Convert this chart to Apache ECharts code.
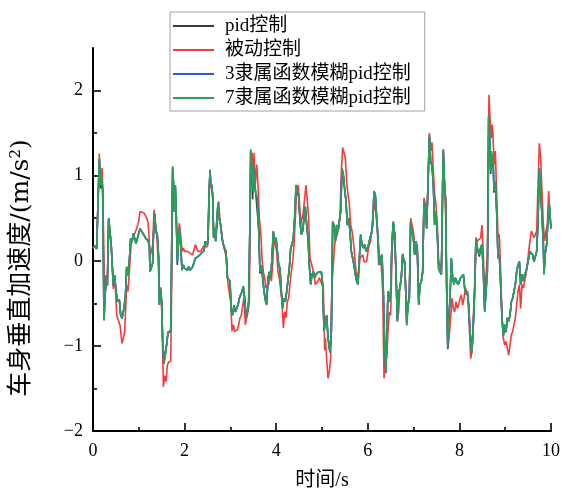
<!DOCTYPE html>
<html><head><meta charset="utf-8">
<script src="https://cdn.jsdelivr.net/npm/echarts@6/dist/echarts.min.js"></script>
<style>html,body{margin:0;padding:0;background:#fff}#c{width:562px;height:493px}</style>
</head><body><div id="c"></div>
<script>
const seriesNames = ['pid控制', '被动控制', '3隶属函数模糊pid控制', '7隶属函数模糊pid控制'];
const xTitle = '时间/s';
const yTitle = '车身垂直加速度/(m/s{sup|2})';
const xTicks = [0, 2, 4, 6, 8, 10];
const yMajorTicks = [-2, -1, 0, 1, 2];
const yMinorTicks = [-1.5, -0.5, 0.5, 1.5];

// common time grid (s) for the three controlled responses
const time = [
0,0.044,0.08,0.109,0.138,0.167,0.189,0.211,0.24,0.269,
0.298,0.313,0.342,0.371,0.4,0.415,0.444,0.473,0.502,0.531,
0.575,0.604,0.633,0.662,0.706,0.735,0.764,0.793,0.822,0.852,
0.881,0.91,0.939,0.968,0.997,1.026,1.07,1.114,1.157,1.201,
1.23,1.245,1.274,1.303,1.317,1.346,1.376,1.405,1.434,1.448,
1.477,1.499,1.521,1.55,1.579,1.608,1.638,1.667,1.696,1.71,
1.725,1.739,1.761,1.783,1.798,1.82,1.841,1.863,1.885,1.914,
1.943,1.972,2.001,2.031,2.06,2.089,2.118,2.147,2.176,2.205,
2.234,2.263,2.293,2.322,2.351,2.394,2.424,2.453,2.482,2.511,
2.533,2.555,2.569,2.591,2.613,2.635,2.656,2.678,2.7,2.729,
2.758,2.788,2.817,2.846,2.875,2.904,2.933,2.962,2.991,3.02,
3.05,3.079,3.108,3.137,3.166,3.195,3.224,3.253,3.282,3.312,
3.341,3.37,3.399,3.428,3.443,3.472,3.486,3.501,3.53,3.559,
3.588,3.617,3.646,3.675,3.705,3.734,3.763,3.792,3.821,3.85,
3.879,3.908,3.937,3.967,3.996,4.025,4.054,4.083,4.112,4.141,
4.17,4.199,4.229,4.258,4.287,4.316,4.345,4.374,4.403,4.432,
4.461,4.491,4.52,4.549,4.578,4.607,4.636,4.665,4.694,4.723,
4.753,4.782,4.811,4.84,4.869,4.898,4.927,4.956,4.985,5.015,
5.044,5.073,5.102,5.131,5.16,5.175,5.204,5.233,5.262,5.291,
5.32,5.349,5.378,5.408,5.437,5.466,5.495,5.524,5.553,5.582,
5.611,5.64,5.67,5.699,5.728,5.757,5.786,5.815,5.844,5.873,
5.903,5.932,5.961,5.99,6.019,6.048,6.077,6.106,6.135,6.164,
6.194,6.223,6.252,6.281,6.31,6.339,6.368,6.397,6.412,6.441,
6.47,6.499,6.528,6.557,6.587,6.616,6.645,6.674,6.703,6.732,
6.761,6.776,6.805,6.834,6.849,6.878,6.907,6.936,6.965,6.994,
7.023,7.052,7.082,7.111,7.14,7.169,7.198,7.227,7.256,7.285,
7.314,7.344,7.373,7.402,7.431,7.46,7.489,7.518,7.547,7.576,
7.606,7.62,7.635,7.649,7.678,7.7,7.722,7.744,7.766,7.795,
7.824,7.853,7.882,7.911,7.94,7.969,7.999,8.028,8.057,8.086,
8.115,8.144,8.173,8.202,8.231,8.261,8.275,8.304,8.333,8.362,
8.392,8.406,8.435,8.464,8.493,8.523,8.552,8.581,8.61,8.624,
8.639,8.661,8.683,8.697,8.712,8.734,8.755,8.785,8.814,8.843,
8.872,8.901,8.93,8.959,8.988,9.017,9.047,9.076,9.105,9.134,
9.163,9.192,9.221,9.25,9.279,9.309,9.338,9.367,9.396,9.425,
9.454,9.483,9.512,9.541,9.571,9.6,9.629,9.658,9.687,9.716,
9.745,9.774,9.803,9.833,9.847,9.876,9.905,9.934,9.963,10
];

const pidV = [
0.15,0.18,0.14,0.15,1.18,0.85,0.95,0.80,-0.68,-0.36,
-0.21,-0.29,0.49,0.34,0.16,0.18,-0.29,-0.17,-0.35,-0.46,
-0.46,-0.63,-0.67,-0.60,-0.44,-0.08,-0.17,-0.01,0.26,0.22,
0.32,0.34,0.21,0.26,0.28,0.37,0.34,0.30,0.26,0.24,
0.18,-0.13,-0.15,-0.03,0.26,0.55,0.34,0.30,0.03,-0.50,
-0.33,-0.48,-0.93,-1.17,-1.08,-0.97,-0.84,-0.86,-0.84,-0.30,
0.48,1.09,0.87,0.58,0.87,0.50,-0.05,0.19,0.37,0.19,
-0.11,-0.05,-0.09,-0.07,-0.11,-0.07,-0.11,-0.09,-0.07,-0.05,
0.03,0.05,0.05,0.06,0.08,0.09,0.12,0.23,0.19,0.23,
0.76,1.05,0.92,0.88,0.77,0.27,0.38,0.23,0.44,0.67,
0.50,0.42,0.27,0.19,0.15,0.10,-0.20,-0.18,-0.24,-0.58,
-0.62,-0.52,-0.60,-0.56,-0.52,-0.44,-0.40,-0.36,-0.30,-0.44,
-0.65,-0.60,-0.48,0.48,1.28,1.02,0.72,1.10,0.88,0.76,
0.74,0.38,-0.15,-0.06,-0.20,-0.36,-0.47,-0.50,-0.20,-0.13,
-0.20,0.03,0.34,0.23,0.27,0.11,-0.05,-0.09,-0.36,-0.54,
-0.44,-0.48,-0.36,-0.34,-0.09,0.15,0.19,0.27,0.50,0.87,
0.80,0.76,0.46,0.31,0.35,0.50,0.63,0.42,0.27,-0.05,
-0.27,-0.16,-0.13,-0.20,-0.16,-0.16,-0.13,-0.15,-0.13,-0.28,
-0.81,-0.70,-0.64,-0.90,-1.01,-1.05,-0.83,0.45,0.42,0.23,
0.42,0.35,0.46,0.58,1.07,1.00,0.84,0.70,0.42,0.50,
0.35,0.11,0.03,-0.05,-0.16,-0.24,-0.27,0.03,0.30,0.19,
0.15,0.19,0.11,0.15,0.19,0.27,0.31,0.42,0.80,0.77,
0.50,0.27,-0.05,0.03,0.07,-0.36,-0.97,-1.27,-0.94,-0.36,
-0.48,-0.36,0.23,0.45,0.31,-0.13,-0.70,-0.36,-0.32,-0.20,
0.08,0.03,-0.01,-0.44,-0.73,-0.52,-0.44,0.45,0.35,0.27,
0.07,0.23,0.16,-0.50,-0.28,-0.24,-0.13,0.69,0.62,0.38,
0.88,1.45,1.15,1.12,0.88,0.42,0.57,0.31,-0.09,-0.13,
-0.16,0.27,0.92,1.29,0.84,0.72,-0.30,-0.97,-0.70,-0.44,
0.03,-0.20,-0.28,-0.20,-0.24,-0.28,-0.24,-0.20,-0.20,-0.16,
-0.32,-0.40,-0.36,-0.52,-0.82,-1.02,-1.05,-0.75,-0.36,0.26,
0.15,0.11,0.05,0.15,0.19,-0.13,-0.58,-0.36,-0.13,0.49,
1.68,1.45,1.02,1.27,1.11,1.23,0.80,0.91,0.58,0.03,
0.07,-0.28,-0.67,-0.89,-0.76,-0.84,-0.67,-0.71,-0.64,-0.48,
-0.44,-0.44,-0.28,-0.13,-0.05,-0.01,-0.28,-0.16,-0.24,-0.16,
-0.13,-0.13,0.03,0.11,0.11,0.07,-0.01,-0.01,0.11,0.45,
1.07,0.80,0.53,0.19,-0.14,0.08,0.19,0.49,0.64,0.38
];

const fuzzy3V = [
0.15,0.18,0.14,0.15,1.19,0.88,0.96,0.84,-0.70,-0.36,
-0.21,-0.29,0.50,0.34,0.16,0.18,-0.29,-0.17,-0.35,-0.48,
-0.46,-0.64,-0.68,-0.60,-0.44,-0.07,-0.17,-0.01,0.26,0.22,
0.32,0.34,0.20,0.26,0.28,0.38,0.34,0.30,0.26,0.24,
0.18,-0.13,-0.15,-0.03,0.26,0.56,0.34,0.30,0.03,-0.52,
-0.33,-0.48,-0.95,-1.21,-1.11,-0.99,-0.84,-0.83,-0.82,-0.28,
0.50,1.10,0.89,0.58,0.89,0.50,-0.01,0.19,0.38,0.19,
-0.11,-0.05,-0.09,-0.07,-0.11,-0.07,-0.11,-0.09,-0.07,-0.05,
0.03,0.05,0.05,0.06,0.08,0.09,0.12,0.23,0.19,0.23,
0.78,1.07,0.93,0.89,0.78,0.27,0.38,0.23,0.44,0.68,
0.50,0.42,0.27,0.19,0.15,0.11,-0.20,-0.18,-0.24,-0.60,
-0.64,-0.52,-0.60,-0.56,-0.52,-0.44,-0.40,-0.36,-0.30,-0.44,
-0.67,-0.60,-0.48,0.50,1.30,1.05,0.82,1.13,0.89,0.78,
0.74,0.38,-0.13,-0.05,-0.20,-0.36,-0.44,-0.52,-0.20,-0.13,
-0.20,0.03,0.35,0.23,0.27,0.11,-0.05,-0.09,-0.36,-0.56,
-0.44,-0.48,-0.36,-0.34,-0.09,0.15,0.19,0.27,0.50,0.89,
0.82,0.78,0.46,0.31,0.35,0.50,0.64,0.42,0.27,-0.05,
-0.28,-0.16,-0.13,-0.20,-0.16,-0.16,-0.13,-0.15,-0.13,-0.28,
-0.83,-0.75,-0.64,-0.91,-1.04,-1.08,-0.83,0.46,0.42,0.23,
0.42,0.35,0.46,0.58,1.09,1.01,0.85,0.70,0.42,0.50,
0.35,0.11,0.03,-0.05,-0.16,-0.24,-0.28,0.03,0.31,0.19,
0.15,0.19,0.11,0.15,0.19,0.27,0.31,0.42,0.82,0.78,
0.50,0.27,-0.05,0.03,0.07,-0.36,-1.00,-1.32,-0.95,-0.36,
-0.48,-0.36,0.23,0.46,0.31,-0.13,-0.71,-0.36,-0.32,-0.20,
0.08,0.03,-0.01,-0.44,-0.76,-0.52,-0.44,0.46,0.35,0.27,
0.07,0.23,0.11,-0.52,-0.28,-0.24,-0.13,0.70,0.62,0.38,
0.89,1.48,1.17,1.13,0.89,0.42,0.58,0.31,-0.09,-0.13,
-0.16,0.27,0.93,1.31,0.85,0.74,-0.32,-1.04,-0.72,-0.44,
0.03,-0.20,-0.28,-0.20,-0.24,-0.28,-0.24,-0.20,-0.20,-0.16,
-0.32,-0.40,-0.36,-0.52,-0.83,-1.03,-1.08,-0.75,-0.36,0.27,
0.15,0.11,0.07,0.15,0.19,-0.13,-0.60,-0.36,-0.13,0.50,
1.71,1.48,1.05,1.29,1.13,1.25,0.82,0.93,0.58,0.03,
0.07,-0.28,-0.67,-0.87,-0.75,-0.83,-0.67,-0.71,-0.64,-0.48,
-0.44,-0.44,-0.28,-0.13,-0.05,-0.01,-0.28,-0.16,-0.24,-0.16,
-0.13,-0.13,0.03,0.11,0.11,0.07,-0.01,-0.01,0.11,0.46,
1.09,0.82,0.54,0.19,-0.16,0.11,0.19,0.50,0.66,0.38
];

const fuzzy7V = [
0.15,0.18,0.14,0.15,1.20,0.89,0.97,0.85,-0.70,-0.36,
-0.21,-0.29,0.50,0.34,0.16,0.18,-0.29,-0.17,-0.35,-0.48,
-0.46,-0.64,-0.68,-0.60,-0.44,-0.07,-0.17,-0.01,0.26,0.22,
0.32,0.34,0.20,0.26,0.28,0.38,0.34,0.30,0.26,0.24,
0.18,-0.13,-0.15,-0.03,0.26,0.56,0.34,0.30,0.03,-0.52,
-0.33,-0.48,-0.95,-1.20,-1.10,-0.99,-0.84,-0.83,-0.82,-0.28,
0.50,1.11,0.89,0.58,0.89,0.50,-0.01,0.19,0.38,0.19,
-0.11,-0.05,-0.09,-0.07,-0.11,-0.07,-0.11,-0.09,-0.07,-0.05,
0.03,0.05,0.05,0.06,0.08,0.09,0.12,0.23,0.19,0.23,
0.78,1.07,0.93,0.89,0.78,0.27,0.38,0.23,0.44,0.68,
0.50,0.42,0.27,0.19,0.15,0.11,-0.20,-0.18,-0.24,-0.60,
-0.64,-0.52,-0.60,-0.56,-0.52,-0.44,-0.40,-0.36,-0.30,-0.44,
-0.67,-0.60,-0.48,0.50,1.31,1.05,0.82,1.13,0.89,0.78,
0.74,0.38,-0.13,-0.05,-0.20,-0.36,-0.44,-0.52,-0.20,-0.13,
-0.20,0.03,0.35,0.23,0.27,0.11,-0.05,-0.09,-0.36,-0.56,
-0.44,-0.48,-0.36,-0.34,-0.09,0.15,0.19,0.27,0.50,0.89,
0.82,0.78,0.46,0.31,0.35,0.50,0.64,0.42,0.27,-0.05,
-0.28,-0.16,-0.13,-0.20,-0.16,-0.16,-0.13,-0.15,-0.13,-0.28,
-0.83,-0.75,-0.64,-0.91,-1.03,-1.07,-0.83,0.46,0.42,0.23,
0.42,0.35,0.46,0.58,1.09,1.01,0.85,0.70,0.42,0.50,
0.35,0.11,0.03,-0.05,-0.16,-0.24,-0.28,0.03,0.31,0.19,
0.15,0.19,0.11,0.15,0.19,0.27,0.31,0.42,0.82,0.78,
0.50,0.27,-0.05,0.03,0.07,-0.36,-0.99,-1.30,-0.95,-0.36,
-0.48,-0.36,0.23,0.46,0.31,-0.13,-0.71,-0.36,-0.32,-0.20,
0.08,0.03,-0.01,-0.44,-0.75,-0.52,-0.44,0.46,0.35,0.27,
0.07,0.23,0.11,-0.52,-0.28,-0.24,-0.13,0.70,0.62,0.38,
0.89,1.48,1.17,1.13,0.89,0.42,0.58,0.31,-0.09,-0.13,
-0.16,0.27,0.93,1.31,0.85,0.74,-0.32,-0.99,-0.71,-0.44,
0.03,-0.20,-0.28,-0.20,-0.24,-0.28,-0.24,-0.20,-0.20,-0.16,
-0.32,-0.40,-0.36,-0.52,-0.83,-1.03,-1.07,-0.75,-0.36,0.27,
0.15,0.11,0.07,0.15,0.19,-0.13,-0.60,-0.36,-0.13,0.50,
1.72,1.48,1.05,1.29,1.13,1.25,0.82,0.93,0.58,0.03,
0.07,-0.28,-0.67,-0.87,-0.75,-0.83,-0.67,-0.71,-0.64,-0.48,
-0.44,-0.44,-0.28,-0.13,-0.05,-0.01,-0.28,-0.16,-0.24,-0.16,
-0.13,-0.13,0.03,0.11,0.11,0.07,-0.01,-0.01,0.11,0.46,
1.09,0.82,0.54,0.19,-0.16,0.11,0.19,0.50,0.66,0.38
];

// passive suspension: [time (s), acceleration (m/s^2)]
const passiveData = [
[0,0.15],[0.044,0.18],[0.08,0.14],[0.109,0.15],[0.138,1.26],[0.167,0.89],[0.197,1.09],[0.211,0.89],[0.255,-0.44],[0.284,-0.17],
[0.313,-0.29],[0.342,0.50],[0.371,0.34],[0.4,0.16],[0.444,-0.33],[0.48,-0.21],[0.517,-0.64],[0.553,-0.64],[0.59,-0.76],[0.633,-0.97],
[0.662,-0.91],[0.691,-0.84],[0.735,-0.29],[0.764,-0.36],[0.793,-0.13],[0.837,0.22],[0.881,0.28],[0.924,0.30],[0.953,0.38],[0.997,0.46],
[1.026,0.58],[1.07,0.57],[1.114,0.56],[1.157,0.52],[1.201,0.46],[1.23,0.22],[1.245,0.05],[1.274,0.07],[1.303,0.18],[1.332,0.60],
[1.361,0.42],[1.39,0.34],[1.426,-0.05],[1.448,-0.40],[1.477,-0.31],[1.507,-0.68],[1.536,-1.48],[1.565,-1.35],[1.594,-1.42],[1.623,-1.23],
[1.652,-1.19],[1.667,-1.20],[1.696,-1.18],[1.71,-0.67],[1.739,0.97],[1.769,0.58],[1.783,0.74],[1.812,0.54],[1.841,0.07],[1.87,0.35],
[1.885,0.44],[1.914,0.31],[1.943,0.11],[1.972,0.15],[2.001,0.11],[2.031,0.13],[2.06,0.11],[2.089,0.13],[2.118,0.09],[2.147,0.11],
[2.176,0.07],[2.205,0.13],[2.234,0.19],[2.263,0.15],[2.293,0.11],[2.322,0.13],[2.351,0.11],[2.394,0.13],[2.424,0.18],[2.453,0.17],
[2.482,0.16],[2.511,0.19],[2.533,0.74],[2.555,1.03],[2.569,0.89],[2.591,0.85],[2.613,0.74],[2.635,0.27],[2.656,0.35],[2.686,0.27],
[2.715,0.46],[2.744,0.70],[2.773,0.46],[2.802,0.35],[2.831,0.23],[2.86,0.15],[2.889,0.15],[2.918,0.03],[2.948,-0.28],[2.977,-0.28],
[3.006,-0.48],[3.035,-0.83],[3.064,-0.75],[3.093,-0.83],[3.122,-0.85],[3.151,-0.81],[3.181,-0.75],[3.21,-0.67],[3.239,-0.64],[3.268,-0.52],
[3.297,-0.44],[3.326,-0.75],[3.341,-0.75],[3.384,-0.60],[3.413,-0.48],[3.443,1.13],[3.472,1.27],[3.501,0.93],[3.515,1.27],[3.544,0.89],
[3.574,1.13],[3.603,0.89],[3.632,0.50],[3.661,0.35],[3.69,0.03],[3.719,-0.13],[3.748,-0.20],[3.777,-0.32],[3.806,-0.30],[3.836,-0.28],
[3.865,-0.13],[3.894,-0.24],[3.923,-0.05],[3.952,0.27],[3.981,0.19],[4.01,0.11],[4.039,-0.13],[4.068,-0.20],[4.098,-0.20],[4.127,-0.48],
[4.156,-0.79],[4.185,-0.60],[4.214,-0.67],[4.243,-0.48],[4.272,-0.44],[4.301,-0.28],[4.33,-0.13],[4.36,-0.01],[4.389,0.19],[4.418,0.50],
[4.447,0.82],[4.476,0.89],[4.505,0.70],[4.534,0.42],[4.563,0.50],[4.592,0.58],[4.622,0.74],[4.651,0.89],[4.68,0.70],[4.709,0.50],
[4.738,0.03],[4.767,0.03],[4.796,-0.09],[4.825,-0.16],[4.854,-0.28],[4.884,-0.28],[4.913,-0.24],[4.942,-0.20],[4.971,-0.24],[5.0,-0.28],
[5.029,-0.32],[5.058,-1.05],[5.073,-0.91],[5.102,-1.15],[5.131,-1.38],[5.16,-1.30],[5.189,-1.15],[5.218,-0.28],[5.247,-0.05],[5.277,0.19],
[5.306,0.27],[5.335,0.31],[5.364,0.38],[5.393,0.54],[5.422,1.05],[5.451,1.33],[5.48,1.33],[5.509,1.21],[5.539,0.93],[5.568,0.78],
[5.597,0.66],[5.626,0.42],[5.655,0.35],[5.684,0.23],[5.713,0.07],[5.742,-0.13],[5.771,-0.20],[5.801,-0.13],[5.83,0.03],[5.859,0.03],
[5.888,0.07],[5.917,-0.01],[5.946,-0.03],[5.975,-0.01],[6.004,0.11],[6.033,0.19],[6.063,0.23],[6.092,0.23],[6.121,0.58],[6.15,0.70],
[6.179,0.54],[6.208,0.38],[6.237,-0.05],[6.266,-0.01],[6.295,-0.05],[6.325,-0.36],[6.354,-1.38],[6.383,-1.07],[6.412,-1.15],[6.441,-0.83],
[6.47,-0.60],[6.499,-0.64],[6.528,0.07],[6.557,0.38],[6.587,0.23],[6.616,-0.16],[6.645,-0.71],[6.674,-0.60],[6.703,-0.28],[6.732,-0.20],
[6.761,0.07],[6.776,0.03],[6.805,-0.05],[6.834,-0.44],[6.849,-0.67],[6.878,-0.52],[6.907,-0.36],[6.936,0.50],[6.965,0.42],[6.994,0.35],
[7.023,0.19],[7.052,0.23],[7.082,0.07],[7.111,-0.44],[7.14,-0.28],[7.169,-0.24],[7.198,-0.13],[7.227,0.74],[7.256,0.66],[7.285,0.46],
[7.314,0.89],[7.344,1.50],[7.373,1.29],[7.402,1.39],[7.431,1.05],[7.46,0.78],[7.489,0.66],[7.518,0.42],[7.547,-0.01],[7.576,-0.05],
[7.606,-0.09],[7.635,0.89],[7.649,1.29],[7.678,0.85],[7.7,0.50],[7.722,-0.32],[7.751,-1.03],[7.78,-0.87],[7.809,-0.67],[7.838,-0.44],
[7.867,-0.56],[7.897,-0.60],[7.926,-0.48],[7.955,-0.56],[7.984,-0.52],[8.013,-0.44],[8.042,-0.40],[8.071,-0.52],[8.1,-0.44],[8.13,-0.32],
[8.159,-0.36],[8.188,-0.44],[8.217,-0.79],[8.246,-1.15],[8.275,-1.07],[8.304,-0.67],[8.333,-0.28],[8.362,0.27],[8.392,0.23],[8.406,0.23],
[8.435,0.25],[8.464,0.27],[8.493,0.42],[8.523,0.07],[8.552,-0.44],[8.581,-0.16],[8.61,0.03],[8.624,0.89],[8.646,1.95],[8.668,1.68],
[8.697,1.44],[8.712,1.60],[8.734,1.48],[8.755,1.13],[8.785,1.29],[8.814,0.78],[8.843,0.27],[8.872,0.31],[8.901,-0.13],[8.93,-0.67],
[8.959,-0.91],[8.988,-0.99],[9.017,-0.95],[9.047,-1.03],[9.076,-1.11],[9.105,-0.99],[9.134,-0.87],[9.163,-0.83],[9.192,-0.75],[9.221,-0.67],
[9.25,-0.52],[9.279,-0.36],[9.309,-0.28],[9.338,-0.56],[9.367,-0.28],[9.396,-0.32],[9.425,-0.24],[9.454,-0.16],[9.483,-0.05],[9.512,0.11],
[9.541,0.23],[9.571,0.35],[9.6,0.31],[9.629,0.27],[9.658,0.31],[9.687,0.35],[9.716,0.89],[9.745,1.38],[9.774,1.21],[9.803,0.82],
[9.833,0.42],[9.862,0.23],[9.891,0.35],[9.92,0.42],[9.949,0.82],[9.978,0.50],[10,0.50]
];

const zip = (t, v) => t.slice(0, Math.min(t.length, v.length)).map((x, i) => [x, v[i]]);

const FONT = "'Liberation Serif', 'Noto Sans CJK SC', serif";
const YFONT = "'DejaVu Serif', 'Noto Sans CJK SC', serif";
const colors = ['#3a3a3a', '#f53b3b', '#2a62c9', '#2e9f5a'];
const fmt = v => String(v).replace('-', '\u2212');

const chart = echarts.init(document.getElementById('c'), null, { renderer: 'canvas' });

chart.setOption({
  animation: false,
  backgroundColor: '#fff',
  color: colors,
  grid: { left: 93, right: 11, top: 48, bottom: 62, containLabel: false, outerBoundsMode: 'none' },
  legend: {
    orient: 'vertical', left: 170, top: 12,
    padding: [4, 14, 3, 2],
    borderColor: '#a0a0a0', borderWidth: 1, backgroundColor: '#fff',
    itemWidth: 41, itemHeight: 14, itemGap: 4,
    itemStyle: { opacity: 0 },
    textStyle: { fontSize: 19, fontFamily: FONT, color: '#000', lineHeight: 20, padding: [0, 0, 0, 6] },
    data: seriesNames
  },
  xAxis: {
    type: 'value', min: 0, max: 10, interval: 2,
    name: xTitle, nameLocation: 'middle', nameGap: 40,
    nameTextStyle: { fontSize: 20, fontFamily: FONT, color: '#000' },
    axisLine: { onZero: false, lineStyle: { color: '#000', width: 2 } },
    axisTick: { inside: true, length: 8, lineStyle: { color: '#000', width: 1.6 }, customValues: xTicks },
    minorTick: { show: true, splitNumber: 2, length: 4, lineStyle: { color: '#000', width: 1.6 } },
    axisLabel: { fontSize: 18, fontFamily: FONT, color: '#000', margin: 11, customValues: xTicks },
    splitLine: { show: false }, minorSplitLine: { show: false }
  },
  yAxis: [{
    type: 'value', min: -2, max: 2.5, interval: 1,
    axisLine: { onZero: false, lineStyle: { color: '#000', width: 2 } },
    axisTick: { inside: true, length: 8, lineStyle: { color: '#000', width: 1.6 }, customValues: yMajorTicks },
    axisLabel: { fontSize: 18, fontFamily: FONT, color: '#000', margin: 10, customValues: yMajorTicks, formatter: fmt },
    splitLine: { show: false }
  }, {
    type: 'value', min: -2, max: 2.5, position: 'left',
    axisLine: { show: false, onZero: false },
    axisTick: { show: true, inside: true, length: 4, lineStyle: { color: '#000', width: 1.6 }, customValues: yMinorTicks },
    axisLabel: { show: false },
    splitLine: { show: false }
  }],
  graphic: [{
    type: 'text',
    x: 21, y: 268,
    rotation: Math.PI / 2,
    style: {
      text: yTitle,
      font: "25px " + YFONT,
      fill: '#000',
      align: 'center', verticalAlign: 'middle',
      rich: { sup: { fontSize: 15, fontFamily: YFONT, fill: '#000', verticalAlign: 'top', lineHeight: 15 } }
    }
  }],
  series: [
    { name: seriesNames[0], type: 'line', data: zip(time, pidV), symbol: 'none', lineStyle: { width: 1.6, color: colors[0] }, itemStyle: { color: colors[0] } },
    { name: seriesNames[1], type: 'line', data: passiveData, symbol: 'none', lineStyle: { width: 1.6, color: colors[1] }, itemStyle: { color: colors[1] } },
    { name: seriesNames[2], type: 'line', data: zip(time, fuzzy3V), symbol: 'none', lineStyle: { width: 1.6, color: colors[2] }, itemStyle: { color: colors[2] } },
    { name: seriesNames[3], type: 'line', data: zip(time, fuzzy7V), symbol: 'none', lineStyle: { width: 1.6, color: colors[3] }, itemStyle: { color: colors[3] } }
  ]
});
</script></body></html>
